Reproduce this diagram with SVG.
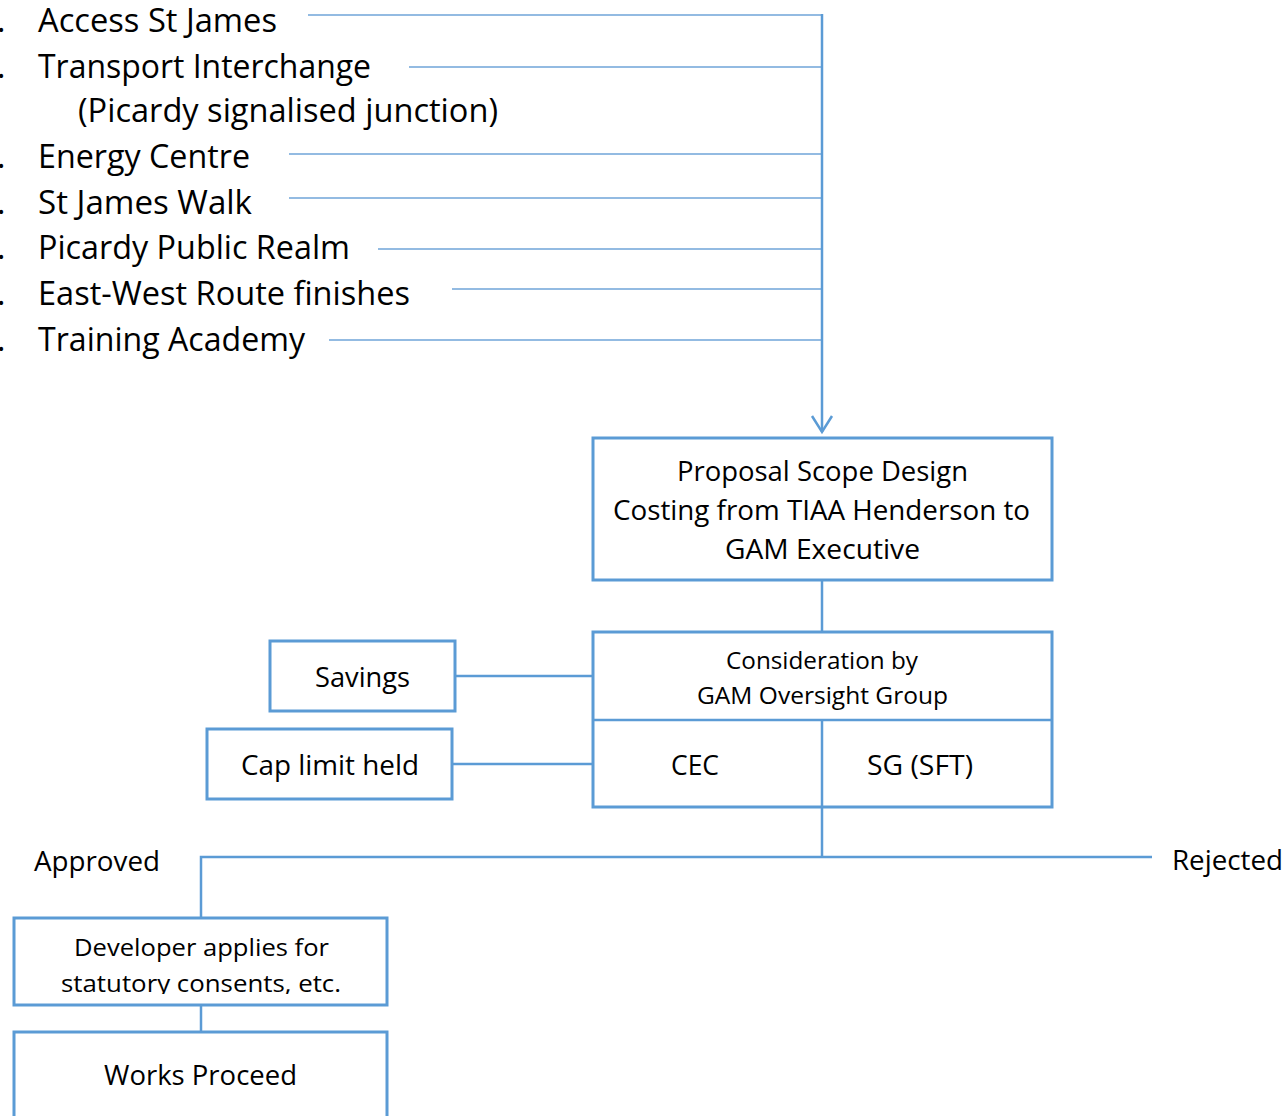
<svg xmlns="http://www.w3.org/2000/svg" width="1287" height="1116" viewBox="0 0 1287 1116">
<style>
text{font-family:"Open Sans","Liberation Sans",sans-serif;fill:#000}
.big{font-size:32px}
.med{font-size:27px}
.sm{font-size:23px}
.box{fill:#fff;stroke:#5B9BD5;stroke-width:3}
.ln{stroke:#5B9BD5;stroke-width:2.5;fill:none}
.thin{stroke:#6FA4D8;stroke-width:1.5;fill:none}
</style>
<defs>
<clipPath id="devclip"><rect x="14" y="917" width="374" height="77"/></clipPath>
</defs>
<rect width="1287" height="1116" fill="#fff"/>
<g id="list">
<text class="big" x="-3" y="32">.</text>
<text class="big" x="38" y="32" textLength="239" lengthAdjust="spacingAndGlyphs">Access St James</text>
<text class="big" x="-3" y="78">.</text>
<text class="big" x="38" y="78" textLength="333" lengthAdjust="spacingAndGlyphs">Transport Interchange</text>
<text class="big" x="78" y="122" textLength="420" lengthAdjust="spacingAndGlyphs">(Picardy signalised junction)</text>
<text class="big" x="-3" y="168">.</text>
<text class="big" x="38" y="168" textLength="212" lengthAdjust="spacingAndGlyphs">Energy Centre</text>
<text class="big" x="-3" y="214">.</text>
<text class="big" x="38" y="214" textLength="214" lengthAdjust="spacingAndGlyphs">St James Walk</text>
<text class="big" x="-3" y="259">.</text>
<text class="big" x="38" y="259" textLength="312" lengthAdjust="spacingAndGlyphs">Picardy Public Realm</text>
<text class="big" x="-3" y="305">.</text>
<text class="big" x="38" y="305" textLength="372" lengthAdjust="spacingAndGlyphs">East-West Route finishes</text>
<text class="big" x="-3" y="351">.</text>
<text class="big" x="38" y="351" textLength="267" lengthAdjust="spacingAndGlyphs">Training Academy</text>
</g>
<g id="connectors">
<line class="thin" x1="308" y1="15" x2="822" y2="15"/>
<line class="thin" x1="409" y1="67" x2="822" y2="67"/>
<line class="thin" x1="289" y1="154" x2="822" y2="154"/>
<line class="thin" x1="289" y1="198" x2="822" y2="198"/>
<line class="thin" x1="378" y1="249" x2="822" y2="249"/>
<line class="thin" x1="452" y1="289" x2="822" y2="289"/>
<line class="thin" x1="329" y1="340" x2="822" y2="340"/>
<line class="ln" x1="822" y1="14" x2="822" y2="432"/>
<polyline class="ln" points="812,416 822,432 832,416"/>
<line class="ln" x1="822" y1="580" x2="822" y2="632"/>
<line class="ln" x1="455" y1="676" x2="593" y2="676"/>
<line class="ln" x1="452" y1="764" x2="593" y2="764"/>
<line class="ln" x1="822" y1="807" x2="822" y2="857"/>
<polyline class="ln" points="1152,857 201,857 201,917"/>
<line class="ln" x1="201" y1="1005" x2="201" y2="1032"/>
</g>
<g id="proposal">
<rect class="box" x="593" y="438" width="459" height="142"/>
<text class="med" x="677" y="481" textLength="291" lengthAdjust="spacingAndGlyphs">Proposal Scope Design</text>
<text class="med" x="613" y="520" textLength="417" lengthAdjust="spacingAndGlyphs">Costing from TIAA Henderson to</text>
<text class="med" x="725" y="559" textLength="195" lengthAdjust="spacingAndGlyphs">GAM Executive</text>
</g>
<g id="consideration">
<rect class="box" x="593" y="632" width="459" height="175"/>
<line class="ln" x1="593" y1="720" x2="1052" y2="720"/>
<line class="ln" x1="822" y1="720" x2="822" y2="807"/>
<text class="sm" x="726" y="669" textLength="192" lengthAdjust="spacingAndGlyphs">Consideration by</text>
<text class="sm" x="697" y="704" textLength="251" lengthAdjust="spacingAndGlyphs">GAM Oversight Group</text>
</g>
<g id="cec">
<text class="med" x="671" y="775" textLength="48" lengthAdjust="spacingAndGlyphs">CEC</text>
</g>
<g id="sg">
<text class="med" x="867" y="775" textLength="106" lengthAdjust="spacingAndGlyphs">SG (SFT)</text>
</g>
<g id="savings">
<rect class="box" x="270" y="641" width="185" height="70"/>
<text class="med" x="315" y="687" textLength="95" lengthAdjust="spacingAndGlyphs">Savings</text>
</g>
<g id="caplimit">
<rect class="box" x="207" y="729" width="245" height="70"/>
<text class="med" x="241" y="775" textLength="178" lengthAdjust="spacingAndGlyphs">Cap limit held</text>
</g>
<g id="approved">
<text class="med" x="34" y="871" textLength="126" lengthAdjust="spacingAndGlyphs">Approved</text>
</g>
<g id="rejected">
<text class="med" x="1172" y="870" textLength="111" lengthAdjust="spacingAndGlyphs">Rejected</text>
</g>
<g id="developer">
<rect class="box" x="14" y="918" width="373" height="87"/>
<text class="sm" x="74" y="956" textLength="255" lengthAdjust="spacingAndGlyphs">Developer applies for</text>
<text class="sm" x="61" y="992" textLength="280" lengthAdjust="spacingAndGlyphs" clip-path="url(#devclip)">statutory consents, etc.</text>
</g>
<g id="works">
<rect class="box" x="14" y="1032" width="373" height="100"/>
<text class="med" x="104" y="1085" textLength="193" lengthAdjust="spacingAndGlyphs">Works Proceed</text>
</g>
</svg>
